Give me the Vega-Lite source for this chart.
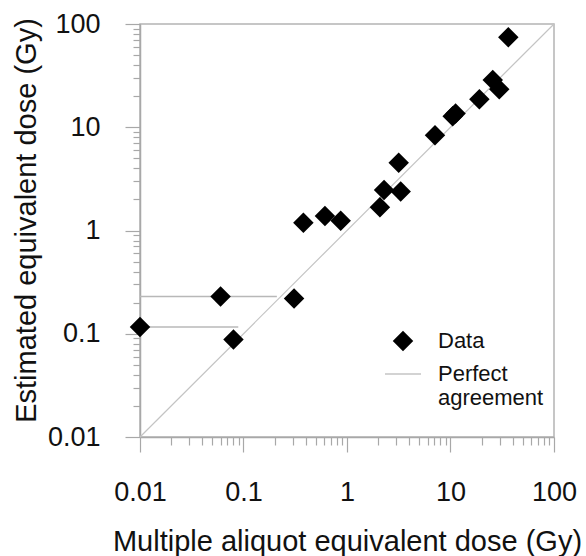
{
  "$schema": "https://vega.github.io/schema/vega-lite/v6.json",
  "width": 414,
  "height": 413,
  "autosize": "none",
  "padding": {"left": 140, "top": 24, "right": 32, "bottom": 119},
  "background": "white",
  "datasets": {
    "points": [
      {"md": 0.01, "ed": 0.116, "series": "Data", "xlo": 0.01, "xhi": 0.089},
      {"md": 0.06, "ed": 0.229, "series": "Data", "xlo": 0.01, "xhi": 0.21},
      {"md": 0.08, "ed": 0.088, "series": "Data"},
      {"md": 0.308, "ed": 0.219, "series": "Data"},
      {"md": 0.379, "ed": 1.19, "series": "Data"},
      {"md": 0.612, "ed": 1.38, "series": "Data"},
      {"md": 0.869, "ed": 1.24, "series": "Data"},
      {"md": 2.08, "ed": 1.68, "series": "Data"},
      {"md": 2.28, "ed": 2.47, "series": "Data"},
      {"md": 3.3, "ed": 2.38, "series": "Data"},
      {"md": 3.16, "ed": 4.54, "series": "Data"},
      {"md": 7.08, "ed": 8.36, "series": "Data"},
      {"md": 10.5, "ed": 12.8, "series": "Data"},
      {"md": 11.2, "ed": 13.6, "series": "Data"},
      {"md": 19.0, "ed": 18.7, "series": "Data"},
      {"md": 25.6, "ed": 28.7, "series": "Data"},
      {"md": 29.6, "ed": 23.3, "series": "Data"},
      {"md": 36.2, "ed": 74.3, "series": "Data"}
    ],
    "agreement": [
      {"md": 0.01, "ed": 0.01},
      {"md": 100, "ed": 100}
    ]
  },
  "resolve": {"axis": {"x": "independent", "y": "independent"}},
  "layer": [
    {
      "data": {"name": "agreement"},
      "mark": {"type": "line", "color": "#c4c4c4", "strokeWidth": 1.2},
      "encoding": {
        "x": {
          "field": "md",
          "type": "quantitative",
          "scale": {"type": "log", "domain": [0.01, 100], "nice": false},
          "axis": {
            "orient": "bottom",
            "title": null,
            "values": [0.02, 0.03, 0.04, 0.05, 0.06, 0.07, 0.08, 0.09, 0.2, 0.3, 0.4, 0.5, 0.6, 0.7, 0.8, 0.9, 2, 3, 4, 5, 6, 7, 8, 9, 20, 30, 40, 50, 60, 70, 80, 90],
            "labels": false,
            "domain": false,
            "tickSize": 8
          }
        },
        "y": {
          "field": "ed",
          "type": "quantitative",
          "scale": {"type": "log", "domain": [0.01, 100], "nice": false},
          "axis": {
            "orient": "left",
            "title": null,
            "values": [0.02, 0.03, 0.04, 0.05, 0.06, 0.07, 0.08, 0.09, 0.2, 0.3, 0.4, 0.5, 0.6, 0.7, 0.8, 0.9, 2, 3, 4, 5, 6, 7, 8, 9, 20, 30, 40, 50, 60, 70, 80, 90],
            "labels": false,
            "domain": false,
            "tickSize": 7
          }
        }
      }
    },
    {
      "data": {"name": "points"},
      "transform": [{"filter": "isValid(datum.xhi)"}],
      "mark": {"type": "rule", "color": "#b8b8b8", "strokeWidth": 1.5},
      "encoding": {
        "x": {"field": "xlo", "type": "quantitative", "axis": null},
        "x2": {"field": "xhi"},
        "y": {"field": "ed", "type": "quantitative", "axis": null}
      }
    },
    {
      "data": {"name": "points"},
      "mark": {"type": "point", "filled": true, "opacity": 1, "strokeWidth": 1.5},
      "encoding": {
        "x": {
          "field": "md",
          "type": "quantitative",
          "axis": {
            "orient": "bottom",
            "title": "Multiple aliquot equivalent dose (Gy)",
            "values": [0.01, 0.1, 1, 10, 100],
            "format": "~g",
            "tickSize": 15,
            "labelPadding": 27,
            "titlePadding": 22
          }
        },
        "y": {
          "field": "ed",
          "type": "quantitative",
          "axis": {
            "orient": "left",
            "title": "Estimated equivalent dose (Gy)",
            "values": [0.01, 0.1, 1, 10, 100],
            "format": "~g",
            "tickSize": 15,
            "labelPadding": 25,
            "titlePadding": 6,
            "titleY": 196
          }
        },
        "shape": {
          "field": "series",
          "type": "ordinal",
          "scale": {"domain": ["Data", "Perfect agreement"], "range": ["diamond", "stroke"]},
          "legend": {
            "title": null,
            "orient": "none",
            "legendX": 244,
            "legendY": 306,
            "padding": 0,
            "symbolStrokeWidth": 1.5,
            "labelFontSize": 22,
            "labelFont": "Liberation Sans",
            "labelColor": "#111",
            "labelOffset": 16,
            "labelLimit": 300,
            "rowPadding": 0,
            "labelExpr": "datum.label == 'Perfect agreement' ? ['Perfect', 'agreement'] : datum.label"
          }
        },
        "fill": {
          "field": "series",
          "type": "ordinal",
          "scale": {"domain": ["Data", "Perfect agreement"], "range": ["black", "transparent"]}
        },
        "stroke": {
          "field": "series",
          "type": "ordinal",
          "scale": {"domain": ["Data", "Perfect agreement"], "range": ["transparent", "#c4c4c4"]}
        },
        "size": {
          "field": "series",
          "type": "ordinal",
          "scale": {"domain": ["Data", "Perfect agreement"], "range": [420, 1296]}
        }
      }
    }
  ],
  "config": {
    "font": "Liberation Sans",
    "view": {"stroke": "#b4b4b4", "strokeWidth": 1.5},
    "axis": {
      "grid": false,
      "domainColor": "#a8a8a8",
      "domainWidth": 1.5,
      "tickColor": "#a8a8a8",
      "tickWidth": 1.2,
      "labelFont": "Liberation Sans",
      "labelFontSize": 27,
      "labelColor": "#111",
      "labelOverlap": false,
      "labelFlush": false,
      "titleFont": "Liberation Sans",
      "titleFontSize": 29,
      "titleFontWeight": "normal",
      "titleColor": "#111"
    }
  }
}
